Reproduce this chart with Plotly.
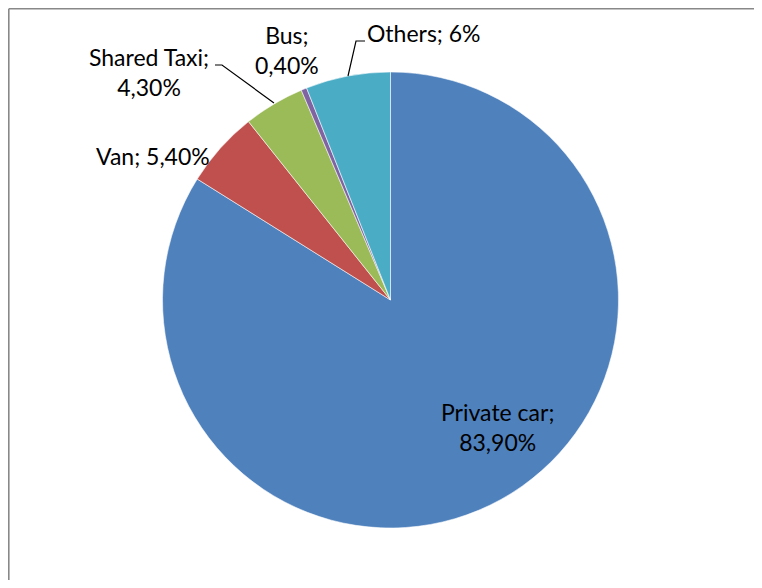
import plotly.graph_objects as go

categories = ["Private car", "Van", "Shared Taxi", "Bus", "Others"]
values = [83.9, 5.4, 4.3, 0.4, 6.0]
value_labels = ["83,90%", "5,40%", "4,30%", "0,40%", "6%"]
colors = ["#4F81BD", "#C0504D", "#9BBB59", "#8064A2", "#4BACC6"]

# the page places the figure 8px in from the corner; keep it inside the window (no scrollbars)
OFF = 8
W, H = 762 - 2 * OFF, 588 - 2 * OFF
CX, CY, R = 390.5, 300, 228


def px(x):
    return (x - OFF) / W


def py(y):
    return 1 - (y - OFF) / H


fig = go.Figure(go.Pie(
    labels=categories,
    values=values,
    sort=False,
    direction="clockwise",
    rotation=0,
    marker=dict(colors=colors, line=dict(color="rgba(255,255,255,0.8)", width=0.7)),
    textinfo="none",
    hoverinfo="label+percent",
    showlegend=False,
    domain=dict(x=[px(CX - R), px(CX + R)], y=[py(CY + R), py(CY - R)]),
))

font = dict(family="Lato, Calibri, sans-serif", size=23, color="#000000")
label_pos = [
    (0, 497, 427, True),
    (1, 153, 156, False),
    (2, 149, 72, True),
    (3, 287, 50, True),
    (4, 424, 33, False),
]
annotations = []
for i, x, y, two in label_pos:
    sep = ";<br>" if two else "; "
    annotations.append(dict(
        x=px(x), y=py(y), xref="paper", yref="paper",
        text=categories[i] + sep + value_labels[i],
        showarrow=False, font=font, align="center",
        xanchor="center", yanchor="middle",
    ))

shapes = [
    dict(type="line", xref="paper", yref="paper", x0=px(8.8), y0=py(8.8), x1=1, y1=py(8.8),
         line=dict(color="#888888", width=1.6)),
    dict(type="line", xref="paper", yref="paper", x0=px(8.8), y0=py(8.8), x1=px(8.8), y1=0,
         line=dict(color="#888888", width=1.6)),
    dict(type="path", xref="paper", yref="paper",
         path=f"M {px(215)} {py(65)} L {px(222)} {py(65)} L {px(274)} {py(103)}",
         line=dict(color="#000000", width=1.2)),
    dict(type="path", xref="paper", yref="paper",
         path=f"M {px(365)} {py(41)} L {px(356)} {py(41)} L {px(348)} {py(76)}",
         line=dict(color="#000000", width=1.2)),
]

fig.update_layout(
    width=W, height=H,
    margin=dict(l=0, r=0, t=0, b=0),
    paper_bgcolor="white", plot_bgcolor="white",
    annotations=annotations,
    shapes=shapes,
)

fig.write_html("out.html")
